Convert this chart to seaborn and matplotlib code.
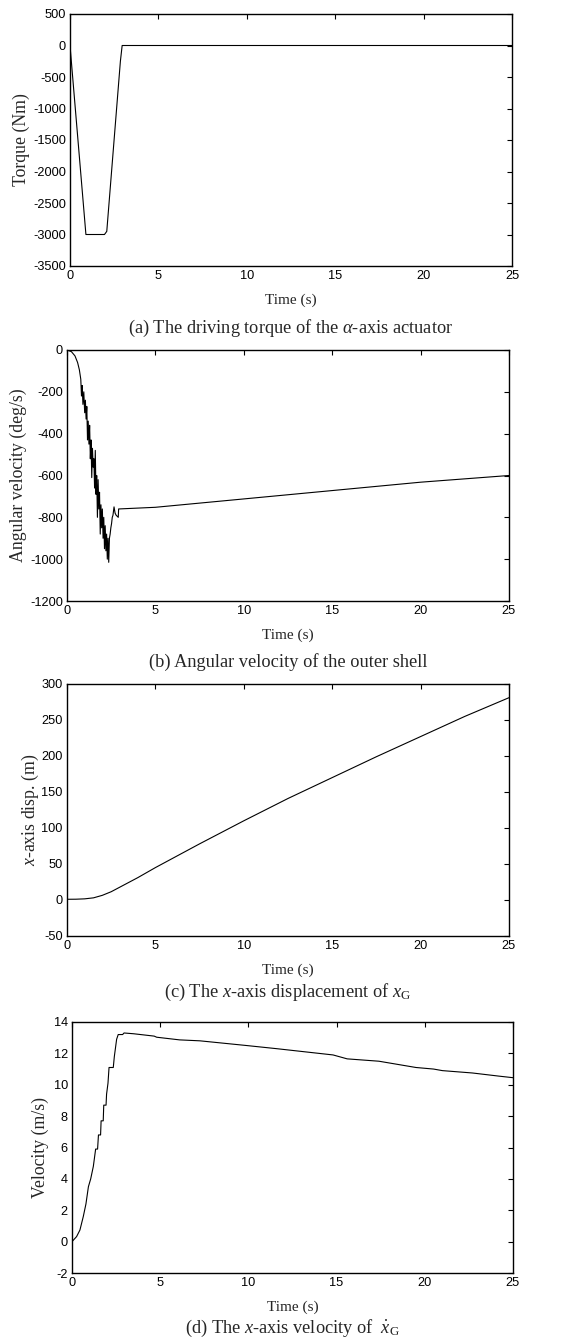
import numpy as np
import pandas as pd
import matplotlib
matplotlib.use("Agg")
import matplotlib.pyplot as plt
import seaborn as sns

# ---------------- data ----------------
torque_t = [0, 0.9, 1.95, 2.08, 2.85, 2.95, 25]
torque_v = [0, -3000, -3000, -2950, -250, 0, 0]

omega_t = [0, 0.25, 0.45, 0.6, 0.7, 0.78, 0.82, 0.86, 0.9, 0.95, 1.0, 1.04,
           1.08, 1.12, 1.16, 1.2, 1.24, 1.28, 1.32, 1.36, 1.40, 1.44, 1.48,
           1.52, 1.56, 1.60, 1.64, 1.68, 1.72, 1.76, 1.80, 1.84, 1.88, 1.92,
           1.96, 2.00, 2.04, 2.08, 2.12, 2.16, 2.20, 2.24, 2.28, 2.32, 2.36,
           2.40, 2.44, 2.48, 2.52, 2.56, 2.60, 2.66, 2.72, 2.78, 2.84, 2.90,
           2.92, 5, 10, 15, 20, 25]
omega_v = [0, -8, -28, -60, -95, -140, -220, -170, -260, -200, -300, -240,
           -330, -270, -430, -340, -450, -360, -520, -430, -610, -470, -560,
           -520, -660, -480, -690, -600, -800, -620, -760, -680, -880, -740,
           -850, -760, -900, -800, -950, -840, -960, -880, -1000, -900, -1015,
           -900, -880, -850, -830, -800, -790, -750, -780, -790, -795, -800,
           -760, -752, -712, -672, -632, -600]

disp_t = [0, 0.5, 1, 1.5, 2, 2.5, 3, 4, 5, 7.5, 10, 12.5, 15, 17.5, 20, 22.5, 25]
disp_v = [1, 1.1, 1.6, 3, 6.5, 11.5, 18, 31, 45, 78, 110, 141, 170, 199, 227, 255, 281]

vel_t = [0, 0.26, 0.45, 0.64, 0.79, 0.93, 1.06, 1.21, 1.34, 1.45, 1.50,
         1.62, 1.65, 1.77, 1.80, 1.93, 1.96, 2.04, 2.10, 2.34, 2.40, 2.53,
         2.62, 2.87, 2.95, 3.5, 4.66, 4.8, 6.1, 7.25, 9.9, 11.6, 12.0, 14.8,
         15.6, 17.4, 19.5, 20.5, 21.0, 22.7, 24.2, 25]
vel_v = [0, 0.32, 0.74, 1.6, 2.4, 3.5, 4.0, 4.8, 5.9, 5.9, 6.8,
         6.8, 7.7, 7.7, 8.7, 8.7, 9.4, 10.1, 11.1, 11.1, 11.8, 12.9,
         13.2, 13.2, 13.3, 13.25, 13.1, 13.03, 12.86, 12.8, 12.5, 12.3, 12.25, 11.9,
         11.65, 11.5, 11.1, 11.0, 10.9, 10.75, 10.55, 10.45]

x_ticks = [0, 5, 10, 15, 20, 25]
y_ticks_a = [500, 0, -500, -1000, -1500, -2000, -2500, -3000, -3500]
y_ticks_b = [0, -200, -400, -600, -800, -1000, -1200]
y_ticks_c = [300, 250, 200, 150, 100, 50, 0, -50]
y_ticks_d = [14, 12, 10, 8, 6, 4, 2, 0, -2]

ylabels = ["Torque (Nm)", "Angular velocity (deg/s)", "$x$-axis disp. (m)", "Velocity (m/s)"]
captions = ["(a) The driving torque of the $\\alpha$-axis actuator",
            "(b) Angular velocity of the outer shell",
            "(c) The $x$-axis displacement of $x_{\\mathrm{G}}$",
            "(d) The $x$-axis velocity of  $\\dot{x}_{\\mathrm{G}}$"]

# ---------------- style ----------------
sns.set_theme(style="white")
plt.rcParams['font.family'] = ['Liberation Sans', 'DejaVu Sans']
plt.rcParams['axes.unicode_minus'] = False
plt.rcParams['mathtext.fontset'] = 'custom'
plt.rcParams['mathtext.rm'] = 'Liberation Serif'
plt.rcParams['mathtext.it'] = 'Liberation Serif:italic'
plt.rcParams['mathtext.bf'] = 'Liberation Serif:bold'

W, H = 585, 1340
fig = plt.figure(figsize=(W / 100, H / 100), dpi=100)

# axes rectangles in pixels: (left, top, right, bottom)
rects = [(70, 14, 512, 266), (67, 350, 509, 601), (67, 684, 509, 936), (72, 1022, 513, 1273)]
ylims = [(-3500, 500), (-1200, 0), (-50, 300), (-2, 14)]
yticks = [y_ticks_a, y_ticks_b, y_ticks_c, y_ticks_d]
ylabel_x = [21, 18, 30, 40]
caption_y = [328, 662, 992, 1328]
data = [(torque_t, torque_v), (omega_t, omega_v), (disp_t, disp_v), (vel_t, vel_v)]

serif = ['Liberation Serif', 'DejaVu Serif']

for i in range(4):
    l, t, r, b = rects[i]
    ax = fig.add_axes([l / W, 1 - b / H, (r - l) / W, (b - t) / H])
    df = pd.DataFrame({"t": data[i][0], "v": data[i][1]})
    sns.lineplot(data=df, x="t", y="v", ax=ax, color="black", linewidth=0.8,
                 estimator=None, sort=False)
    ax.set_xlim(0, 25)
    ax.set_ylim(*ylims[i])
    ax.set_xticks(x_ticks)
    ax.set_yticks(yticks[i])
    ax.tick_params(direction="in", length=3.5, width=0.8, top=True, right=True,
                   labelsize=9.2, colors="black", pad=3)
    for s in ax.spines.values():
        s.set_linewidth(1.0)
        s.set_color("black")
    ax.set_xlabel("Time (s)", fontsize=11, family=serif)
    ax.set_ylabel(ylabels[i], fontsize=12.8, family=serif)
    ax.yaxis.set_label_coords((ylabel_x[i] - l) / (r - l), 0.5)
    ax.xaxis.set_label_coords(0.5, -34 / (b - t))
    ax.xaxis.label.set_va("center")
    ax.yaxis.label.set_va("center")
    fig.text(((l + r) / 2) / W, 1 - caption_y[i] / H, captions[i], ha="center",
             va="center", fontsize=13.2, family=serif)

fig.savefig("out.png", dpi=100, facecolor="white")
